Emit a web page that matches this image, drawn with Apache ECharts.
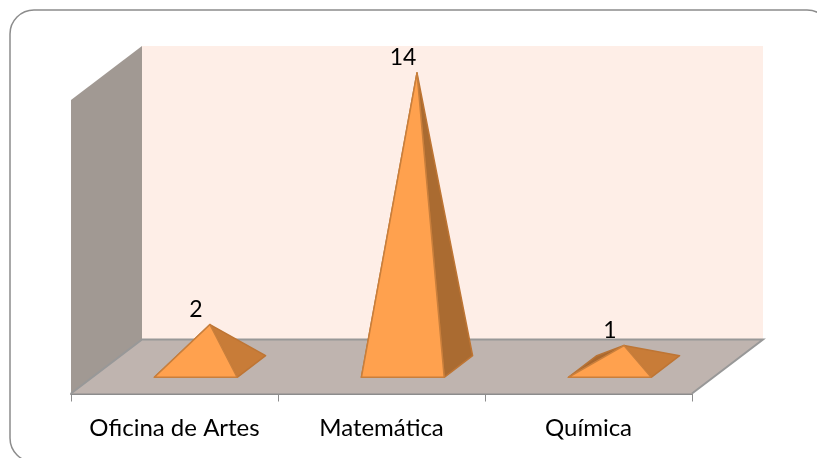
<!DOCTYPE html>
<html>
<head>
<meta charset="utf-8">
<style>html,body{margin:0;padding:0;background:#fff;overflow:hidden}#chart{width:817px;height:458px}</style>
<script src="https://cdn.jsdelivr.net/npm/echarts@6/dist/echarts.min.js"></script>
</head>
<body>
<div id="chart"></div>
<script>
var categories = ['Oficina de Artes', 'Matemática', 'Química'];
var values = [2, 14, 1];
var valueMax = 14;

// profundidade do piso 3D (px)
var depthX = 71, depthY = -54;
var barRatio = 0.4;

var myChart = echarts.init(document.getElementById('chart'), null, {renderer: 'canvas'});

function poly(points, fill, stroke) {
    return {
        type: 'polygon',
        shape: {points: points},
        style: {fill: fill, stroke: stroke || fill, lineWidth: stroke ? 1.5 : 0, lineJoin: 'round'}
    };
}

// paredes e piso
function renderWalls(params, api) {
    var cs = params.coordSys;
    var x0 = cs.x, x1 = cs.x + cs.width;
    var y0 = api.coord([0, 0])[1], yTop = api.coord([0, valueMax])[1];
    var dx = depthX, dy = depthY;
    return {
        type: 'group',
        children: [
            poly([[x0 + dx, yTop + dy], [x1 + dx, yTop + dy], [x1 + dx, y0 + dy], [x0 + dx, y0 + dy]], '#FEEEE7'),
            poly([[x0, yTop], [x0 + dx, yTop + dy], [x0 + dx, y0 + dy], [x0, y0]], '#A19993'),
            poly([[x0, y0], [x0 + dx, y0 + dy], [x1 + dx, y0 + dy], [x1, y0]], '#BFB4AF'),
            {type: 'polyline', shape: {points: [[x0, y0], [x0 + dx, y0 + dy], [x1 + dx, y0 + dy], [x1, y0]]},
                style: {fill: null, stroke: '#989898', lineWidth: 2}}
        ]
    };
}

// pirâmides
function renderPyramid(params, api) {
    var idx = api.value(0), val = api.value(1);
    var base = api.coord([idx, 0]);
    var top = api.coord([idx, val]);
    var half = api.size([1, 0])[0] * barRatio / 2;
    var ox = depthX / 2, oy = depthY / 2;
    var bx = depthX * barRatio / 2, by = depthY * barRatio / 2;
    var cx = base[0] + ox, cy = base[1] + oy;
    var fl = [cx - half - bx, cy - by], fr = [cx + half - bx, cy - by];
    var bl = [cx - half + bx, cy + by], br = [cx + half + bx, cy + by];
    var apex = [top[0] + ox, top[1] + oy];
    var sideFill = val > 5 ? '#AA6B31' : '#C87C38';
    return {
        type: 'group',
        children: [
            poly([fl, bl, apex], '#A9682F', '#B87335'),
            poly([fr, br, apex], sideFill, '#BE7534'),
            poly([fl, fr, apex], '#FFA14E', '#C97F3C'),
            {
                type: 'text',
                style: {
                    text: String(val), x: apex[0] - 14, y: apex[1] - 15,
                    align: 'center', verticalAlign: 'middle',
                    font: '23px Lato', fill: '#000'
                }
            }
        ]
    };
}

var option = {
    animation: false,
    backgroundColor: '#fff',
    graphic: [{
        type: 'rect',
        z: -1,
        shape: {x: 10, y: 10, width: 821, height: 452, r: 24},
        style: {fill: '#fff', stroke: '#8C8C8C', lineWidth: 1.5}
    }],
    grid: {left: 71, right: 125, top: 100, bottom: 64.5},
    xAxis: {
        type: 'category',
        data: categories,
        axisLine: {show: true, lineStyle: {color: '#8C8C8C', width: 2}},
        axisTick: {show: true, interval: 0, alignWithLabel: false, length: 8, lineStyle: {color: '#8C8C8C', width: 1}},
        axisLabel: {interval: 0, hideOverlap: false, color: '#000', fontFamily: 'Lato', fontSize: 24, margin: 23}
    },
    yAxis: {type: 'value', min: 0, max: valueMax, show: false},
    series: [
        {type: 'custom', clip: false, silent: true, z: 1, renderItem: renderWalls, data: [[0, 0]], encode: {x: 0, y: 1}},
        {
            type: 'custom', clip: false, silent: true, z: 2, renderItem: renderPyramid,
            data: values.map(function (v, i) { return [i, v]; }), encode: {x: 0, y: 1}
        }
    ]
};

myChart.setOption(option);
</script>
</body>
</html>
